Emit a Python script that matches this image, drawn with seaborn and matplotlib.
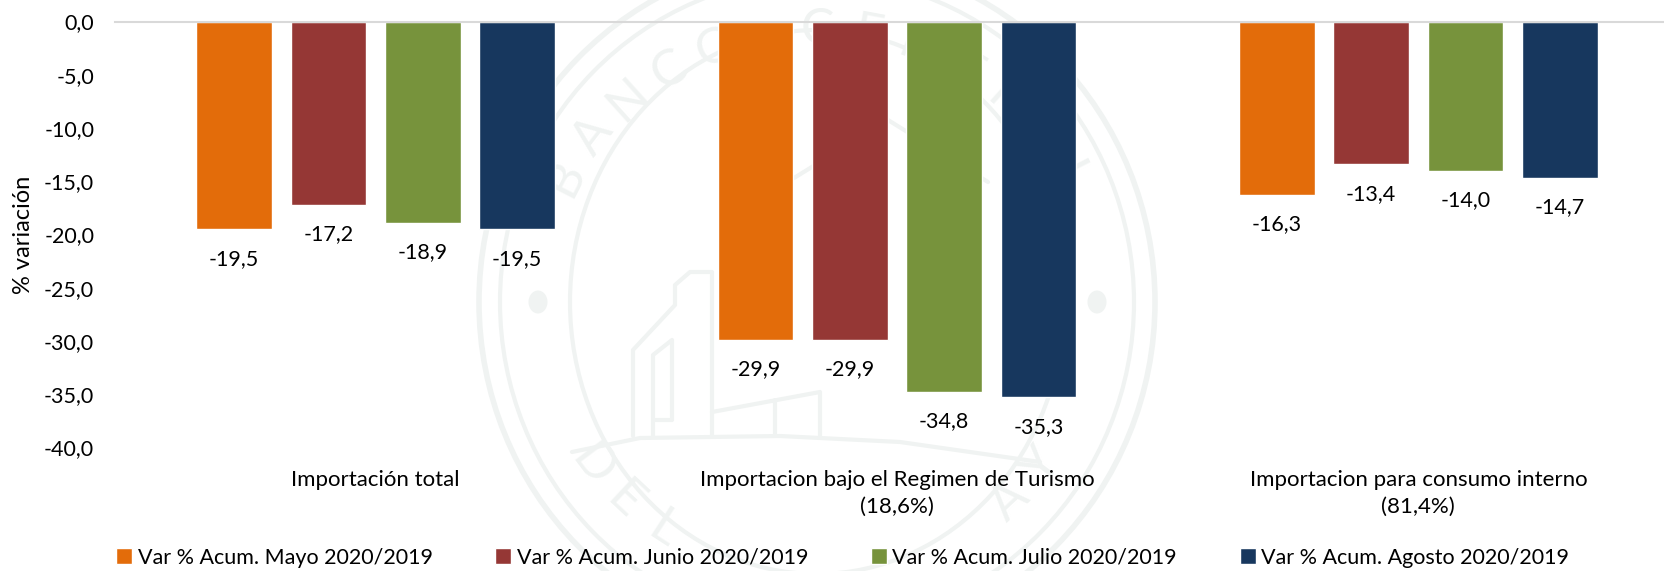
import numpy as np
import pandas as pd
import matplotlib
matplotlib.use('Agg')
import matplotlib.pyplot as plt
from matplotlib.lines import Line2D
from matplotlib.patches import Ellipse
import seaborn as sns

# values
categorias = ['Importación total',
              'Importacion bajo el Regimen de Turismo\n(18,6%)',
              'Importacion para consumo interno\n(81,4%)']
series = ['Var % Acum. Mayo 2020/2019', 'Var % Acum. Junio 2020/2019',
          'Var % Acum. Julio 2020/2019', 'Var % Acum. Agosto 2020/2019']
mayo = [-19.5, -29.9, -16.3]
junio = [-17.2, -29.9, -13.4]
julio = [-18.9, -34.8, -14.0]
agosto = [-19.5, -35.3, -14.7]
colores = ['#E36C0A', '#953735', '#77933C', '#17375E']
y_ticks = [0, -5, -10, -15, -20, -25, -30, -35, -40]

df = pd.DataFrame({'categoria': categorias * 4,
                   'serie': np.repeat(series, 3),
                   'valor': mayo + junio + julio + agosto})

sns.set_theme(style='white')
plt.rcParams['font.family'] = ['Lato', 'DejaVu Sans']

W, H = 1665, 571
fig = plt.figure(figsize=(W / 100, H / 100), dpi=100)
ax = fig.add_axes([115 / W, 1 - 447.5 / H, (W - 115) / W, (447.5 - 21.5) / H])
ax.patch.set_alpha(0)

# pale seal behind the chart (pixel positions, y from the top)
sello = '#F0F3F2'
cx, cy = 817, 302


def trazo(puntos, lw=3):
    xs = [p[0] / W for p in puntos]
    ys = [1 - p[1] / H for p in puntos]
    fig.add_artist(Line2D(xs, ys, color=sello, lw=lw, zorder=-5))


def letras(texto, angulos, giro):
    for letra, ang in zip(texto, angulos):
        px = cx + 282 * np.cos(np.radians(ang))
        py = cy - 272 * np.sin(np.radians(ang))
        fig.text(px / W, 1 - py / H, letra, color=sello, fontsize=36, ha='center', va='center',
                 rotation=ang + giro, zorder=-5)


for rx, ry, lw in [(338, 345, 4), (317, 325, 3), (247, 272, 3)]:
    fig.add_artist(Ellipse((cx / W, 1 - cy / H), 2 * rx / W, 2 * ry / H, fill=False,
                           ec=sello, lw=lw, zorder=-5))
for x in [538, 1097]:
    fig.add_artist(Ellipse((x / W, 1 - cy / H), 19 / W, 23 / H, fc=sello, ec='none', zorder=-5))

# building and ground line of the seal
trazo([(572, 452), (640, 438), (780, 436), (900, 442), (1040, 462)])
trazo([(633, 436), (633, 350), (675, 305), (675, 285), (690, 272), (712, 272), (712, 436)])
trazo([(653, 436), (653, 355), (672, 340), (672, 420), (653, 420)])
trazo([(712, 412), (820, 392), (820, 436)])
trazo([(775, 400), (775, 436)])
trazo([(794, 178), (888, 120), (988, 182)])

letras('BANCO CENTRAL', np.linspace(153, 27, 13), -90)
letras('DEL', [217, 227, 237], 90)
letras('AY', [313, 323], 90)

sns.barplot(data=df, x='categoria', y='valor', hue='serie', palette=colores,
            width=0.724, gap=0.2, saturation=1, ax=ax, legend=True)

for cont, vals in zip(ax.containers, [mayo, junio, julio, agosto]):
    ax.bar_label(cont, labels=[f'{v:.1f}'.replace('.', ',') for v in vals],
                 padding=14, fontsize=15.5, color='black')

ax.set_ylim(-40, 0)
ax.set_xlim(-0.5, 2.5 - 14 / 521.5)
ax.set_yticks(y_ticks)
ax.set_yticklabels([f'{v:.1f}'.replace('.', ',') for v in y_ticks], fontsize=15.5, color='black',
                   va='center_baseline')
ax.tick_params(axis='y', length=0, pad=15)
ax.tick_params(axis='x', length=0, pad=16, labelsize=16, labelcolor='black')
for t in ax.get_xticklabels():
    t.set_linespacing(1.45)
ax.xaxis.tick_bottom()
ax.set_xlabel('')
ax.set_ylabel('% variación', fontsize=17, color='black', labelpad=7)
for lado in ['right', 'left', 'bottom']:
    ax.spines[lado].set_visible(False)
ax.spines['top'].set_color('#D9D9D9')
ax.spines['top'].set_linewidth(1.5)

sns.move_legend(ax, 'lower left', bbox_to_anchor=(113 / W, 0), bbox_transform=fig.transFigure,
                ncol=4, title=None, frameon=False, fontsize=15.5, handlelength=0.74,
                handleheight=0.78, handletextpad=0.25, columnspacing=2.92,
                borderpad=0.15, borderaxespad=0)
for t in ax.get_legend().get_texts():
    t.set_color('black')

fig.savefig('out.png', dpi=100)
